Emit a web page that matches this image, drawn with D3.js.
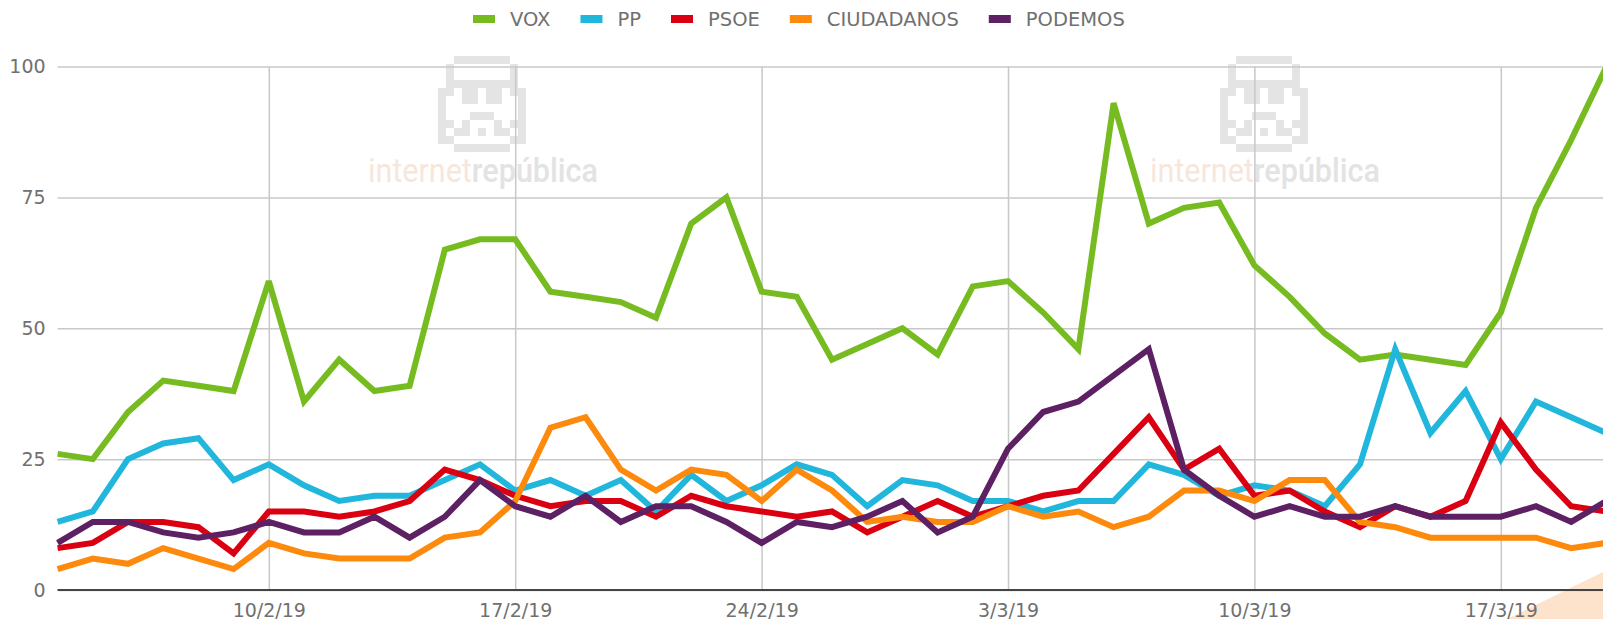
<!DOCTYPE html>
<html><head><meta charset="utf-8">
<script src="https://cdn.jsdelivr.net/npm/d3@7"></script>
<style>body{margin:0;background:#fff;overflow:hidden} svg{display:block}</style>
</head><body>
<svg id="c" width="1603" height="619"></svg>
<script>
const dates = ["2019-02-04","2019-02-05","2019-02-06","2019-02-07","2019-02-08","2019-02-09","2019-02-10",
  "2019-02-11","2019-02-12","2019-02-13","2019-02-14","2019-02-15","2019-02-16","2019-02-17",
  "2019-02-18","2019-02-19","2019-02-20","2019-02-21","2019-02-22","2019-02-23","2019-02-24",
  "2019-02-25","2019-02-26","2019-02-27","2019-02-28","2019-03-01","2019-03-02","2019-03-03",
  "2019-03-04","2019-03-05","2019-03-06","2019-03-07","2019-03-08","2019-03-09","2019-03-10",
  "2019-03-11","2019-03-12","2019-03-13","2019-03-14","2019-03-15","2019-03-16","2019-03-17",
  "2019-03-18","2019-03-19","2019-03-20"];
const vox = [26,25,34,40,39,38,59,36,44,38,39,65,67,67,57,56,55,52,70,75,57,56,44,47,50,45,58,59,53,46,93,70,73,74,62,56,49,44,45,44,43,53,73,86,100];
const pp = [13,15,25,28,29,21,24,20,17,18,18,21,24,19,21,18,21,15,22,17,20,24,22,16,21,20,17,17,15,17,17,24,22,18,20,19,16,24,46,30,38,25,36,33,30];
const psoe = [8,9,13,13,12,7,15,15,14,15,17,23,21,18,16,17,17,14,18,16,15,14,15,11,14,17,14,16,18,19,26,33,23,27,18,19,15,12,16,14,17,32,23,16,15];
const ciudadanos = [4,6,5,8,6,4,9,7,6,6,6,10,11,17,31,33,23,19,23,22,17,23,19,13,14,13,13,16,14,15,12,14,19,19,17,21,21,13,12,10,10,10,10,8,9];
const podemos = [9,13,13,11,10,11,13,11,11,14,10,14,21,16,14,18,13,16,16,13,9,13,12,14,17,11,14,27,34,36,41,46,23,18,14,16,14,14,16,14,14,14,16,13,17];
const seriesNames = ["VOX","PP","PSOE","CIUDADANOS","PODEMOS"];
const seriesColors = ["#76bc21","#21b6dc","#da0012","#fd8a0c","#5c2063"];
const yTicks = [0,25,50,75,100];
const xTickDates = ["2019-02-10","2019-02-17","2019-02-24","2019-03-03","2019-03-10","2019-03-17"];
const xTickLabels = ["10/2/19","17/2/19","24/2/19","3/3/19","10/3/19","17/3/19"];
const watermarkA = "internet", watermarkB = "república";
const trooper = [
  "..#######..",
  ".#.......#.",
  ".#.......#.",
  ".#########.",
  "##.##.##.##",
  "#..##.##..#",
  "#.........#",
  "#...###...#",
  "##.#...#.##",
  "#.##.#.##.#",
  "##.......##",
  "..#######.."
];

const seriesData = [vox, pp, psoe, ciudadanos, podemos];
const parse = d3.utcParse("%Y-%m-%d");
const W = 1603, H = 619;
const svg = d3.select("#c");
const pLeft = 57.6, pRight = 1606.4, pTop = 66.5, pBottom = 590;
const x = d3.scaleUtc().domain([parse(dates[0]), parse(dates[dates.length-1])]).range([pLeft, pRight]);
const y = d3.scaleLinear().domain([0,100]).range([pBottom, pTop]);

// decorative peach corner
svg.append("polygon").attr("points", "1507,619 1603,572 1603,619").attr("fill", "#fde3cb");

// watermarks
function watermark(tx, iconX) {
  const g = svg.append("g").attr("class","wm");
  const cell = 8;
  trooper.forEach((row, r) => {
    [...row].forEach((ch, c) => {
      if (ch === "#") g.append("rect").attr("x", iconX + c*cell).attr("y", 56 + r*cell)
        .attr("width", cell).attr("height", cell).attr("fill", "#e4e4e4");
    });
  });
  const t = g.append("text").attr("x", tx).attr("y", 182).attr("font-family","Roboto, sans-serif")
    .attr("font-size", 33).attr("textLength", 230).attr("lengthAdjust","spacingAndGlyphs");
  t.append("tspan").attr("fill", "#f7e6dc").text(watermarkA);
  t.append("tspan").attr("fill", "#e3e3e3").attr("font-weight", 500).text(watermarkB);
}
watermark(368, 438);
watermark(1150, 1220);

// horizontal gridlines + y labels
const yAxis = d3.axisLeft(y).tickValues(yTicks).tickSize(-(W - pLeft)).tickFormat(d3.format("d"));
const gy = svg.append("g").attr("transform", `translate(${pLeft},0)`).call(yAxis);
gy.select(".domain").remove();
gy.selectAll(".tick line").attr("stroke", "#c8c8c8").attr("stroke-width", 1.5);
gy.selectAll(".tick text").attr("x", -12).attr("dy", "0.34em")
  .attr("font-family","'DejaVu Sans', sans-serif").attr("font-size", 19).attr("fill", "#707070");

// vertical gridlines + x labels
const xAxis = d3.axisBottom(x).tickValues(xTickDates.map(parse)).tickSize(-(pBottom - pTop))
  .tickFormat((d,i) => xTickLabels[i]);
const gx = svg.append("g").attr("transform", `translate(0,${pBottom})`).call(xAxis);
gx.select(".domain").remove();
gx.selectAll(".tick line").attr("stroke", "#c8c8c8").attr("stroke-width", 1.5);
gx.selectAll(".tick text").attr("y", 26.5).attr("dy", 0)
  .attr("font-family","'DejaVu Sans', sans-serif").attr("font-size", 19).attr("fill", "#707070");

// baseline
svg.append("line").attr("x1", pLeft).attr("x2", W).attr("y1", y(0)).attr("y2", y(0))
  .attr("stroke", "#444").attr("stroke-width", 2);

// lines
const line = d3.line().x((d,i) => x(parse(dates[i]))).y(d => y(d));
seriesData.forEach((s, k) => {
  svg.append("path").datum(s).attr("d", line).attr("fill","none")
    .attr("stroke", seriesColors[k]).attr("stroke-width", 6)
    .attr("stroke-linejoin","miter").attr("stroke-miterlimit", 3);
});

// legend
const lg = svg.append("g");
let lx = 473;
seriesNames.forEach((n, k) => {
  lg.append("rect").attr("x", lx).attr("y", 15).attr("width", 22).attr("height", 8).attr("fill", seriesColors[k]);
  const t = lg.append("text").attr("x", lx + 37).attr("y", 26).attr("font-family","'DejaVu Sans', sans-serif")
    .attr("font-size", 19.5).attr("fill","#707070").text(n);
  lx += 37 + t.node().getComputedTextLength() + 30;
});
</script>
</body></html>
